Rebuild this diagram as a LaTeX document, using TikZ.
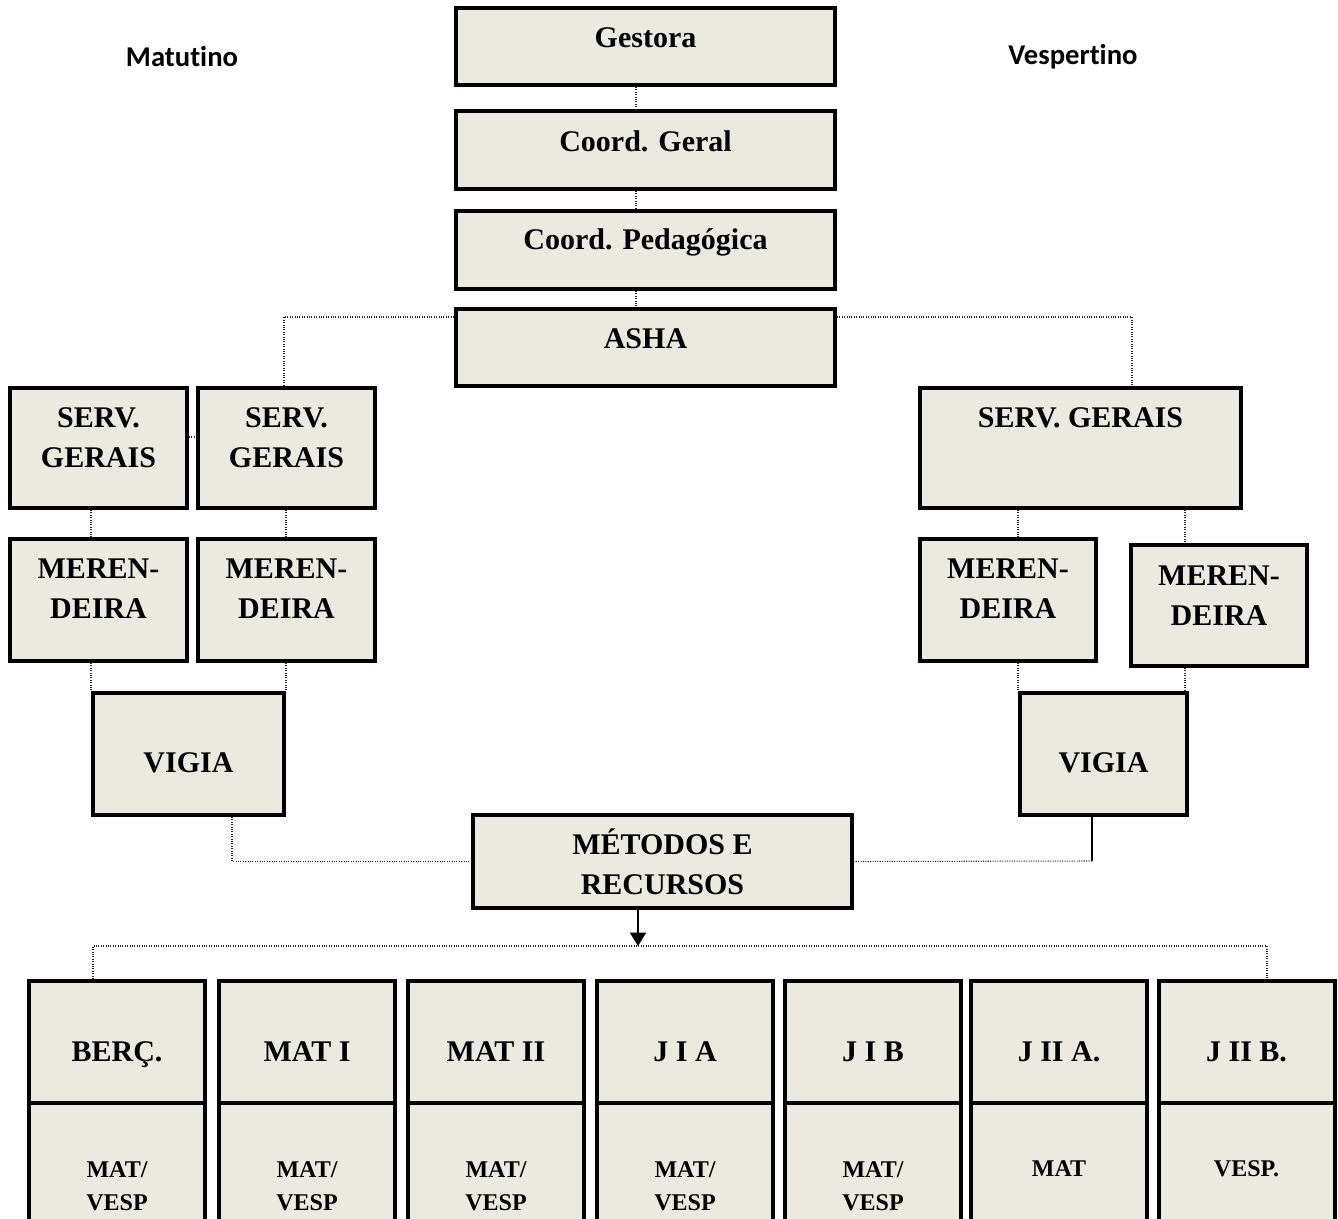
\documentclass[tikz,border=0pt]{standalone}
\usepackage{fontspec}
\setmainfont{Liberation Serif}
\newfontfamily\turnofont[Ligatures=NoCommon]{Carlito}
\usetikzlibrary{arrows.meta}
\definecolor{boxfill}{RGB}{236,234,224}
\tikzset{>={Triangle[length=10pt,width=12pt]}}
\newcommand{\boxtext}[2]{\raisebox{#1}[\height][\depth]{\begin{tabular}{@{}c@{}}#2\end{tabular}}}

\begin{document}
\begin{tikzpicture}[x=0.75pt, y=-0.75pt,
  box/.style={draw, line width=3pt, fill=boxfill, inner sep=0pt,
    font=\bfseries\fontsize{22.5pt}{30pt}\selectfont},
  small/.style={box, font=\bfseries\fontsize{18pt}{24.75pt}\selectfont},
  wh/.style 2 args={minimum width=#1*0.75pt, minimum height=#2*0.75pt},
  conn/.style={densely dotted, line width=0.8pt, black!85},
  turno/.style={font=\turnofont\bfseries\fontsize{21.5pt}{26pt}\selectfont}]
\useasboundingbox (0,0) rectangle (1338,1219);

\node[turno] (matut) at (182,57) {Matutino};
\node[turno] (vesp) at (1073,57) {Vespertino};

% direcao
\node[box, wh={379}{77}] (gest) at (645.5,46.5) {\boxtext{4.9pt}{Gestora}};
\node[box, wh={379}{78}] (geral) at (645.5,150) {\boxtext{5.2pt}{Coord. Geral}};
\node[box, wh={379}{78}] (ped) at (645.5,250) {\boxtext{6pt}{Coord. Pedagógica}};
\node[box, wh={379}{77}] (asha) at (645.5,347.5) {\boxtext{5.6pt}{ASHA}};

% matutino
\node[box, wh={177}{120}] (servA) at (98.5,448) {\boxtext{6.7pt}{SERV.\\GERAIS}};
\node[box, wh={177}{120}] (servB) at (286.5,448) {\boxtext{6.7pt}{SERV.\\GERAIS}};
\node[box, wh={177}{122}] (merA) at (98.5,600) {\boxtext{7.1pt}{MEREN-\\DEIRA}};
\node[box, wh={177}{122}] (merB) at (286.5,600) {\boxtext{7.1pt}{MEREN-\\DEIRA}};
\node[box, wh={191}{122}] (vigA) at (188.5,754) {\boxtext{-8.2pt}{VIGIA}};

% vespertino
\node[box, wh={321}{120}] (servC) at (1080.5,448) {\boxtext{21.7pt}{SERV. GERAIS}};
\node[box, wh={176}{122}] (merC) at (1008,600) {\boxtext{7.1pt}{MEREN-\\DEIRA}};
\node[box, wh={176}{121}] (merD) at (1219,605.5) {\boxtext{6pt}{MEREN-\\DEIRA}};
\node[box, wh={167}{122}] (vigB) at (1103.5,754) {\boxtext{-8.2pt}{VIGIA}};

\node[box, wh={379}{93}] (met) at (662.5,861.5) {\boxtext{-3.4pt}{MÉTODOS E\\RECURSOS}};

% turmas
\foreach \cx/\hd/\lo/\ls [count=\i] in {117/BERÇ./{MAT/\\VESP}/-4.4,
    307/MAT I/{MAT/\\VESP}/-4.4, 496/MAT II/{MAT/\\VESP}/-4.4,
    685/J I A/{MAT/\\VESP}/-4.4, 873/J I B/{MAT/\\VESP}/-4.4,
    1059/J II A./MAT/8.7, 1246.5/J II B./VESP./8.7}{
  \node[box, wh={176}{122}] (t\i) at (\cx,1042) {\boxtext{-8.6pt}{\hd}};
  \node[small, wh={176}{157}] (b\i) at (\cx,1181.5) {\boxtext{\ls pt}{\lo}};
}

% ligacoes
\draw[conn] (636,0 |- gest.south) -- (636,0 |- geral.north);
\draw[conn] (636,0 |- geral.south) -- (636,0 |- ped.north);
\draw[conn] (636,0 |- ped.south) -- (636,0 |- asha.north);
\draw[conn] (asha.west |- 0,317) -| (284,0 |- servB.north);
\draw[conn] (asha.east |- 0,317) -| (1132,0 |- servC.north);
\draw[conn] (servA.east |- 0,437) -- (servB.west |- 0,437);

\draw[conn] (vigA.north west |- servA.south) -- (vigA.north west |- merA.north);
\draw[conn] (vigA.north east |- servB.south) -- (vigA.north east |- merB.north);
\draw[conn] (vigA.north west |- merA.south) -- (vigA.north west);
\draw[conn] (vigA.north east |- merB.south) -- (vigA.north east);
\draw[conn] (232,0 |- vigA.south) |- (met.west);

\draw[conn] (vigB.north west |- servC.south) -- (vigB.north west |- merC.north);
\draw[conn] (1185,0 |- servC.south) -- (1185,0 |- merD.north);
\draw[conn] (vigB.north west |- merC.south) -- (vigB.north west);
\draw[conn] (1185,0 |- merD.south) -- (1185,0 |- vigB.north);
\coordinate (vb) at (1092,861);
\draw[line width=1pt] (vb |- vigB.south) -- (vb);
\draw[conn] (vb) -- (met.east);

\coordinate (hub) at (638,946);
\draw[->, line width=1.1pt] (hub |- met.south) -- (hub);
\draw[conn] (93,0 |- t1.north) |- (hub) -| (1267,0 |- t7.north);
\end{tikzpicture}
\end{document}
